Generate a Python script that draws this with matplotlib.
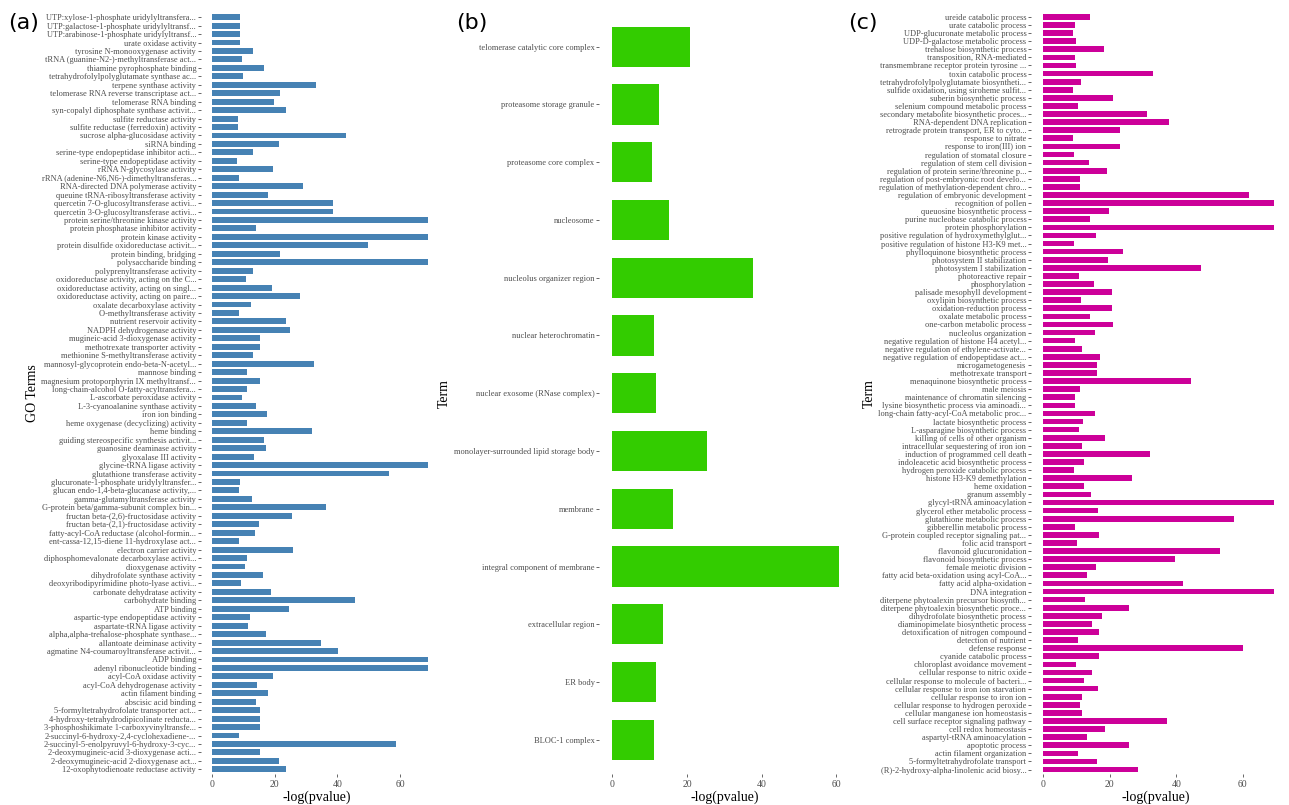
import matplotlib
matplotlib.use("Agg")
import matplotlib.pyplot as plt

# ---- data (listed top to bottom) ----
a_terms = ["UTP:xylose-1-phosphate uridylyltransfera...","UTP:galactose-1-phosphate uridylyltransf...","UTP:arabinose-1-phosphate uridylyltransf...","urate oxidase activity","tyrosine N-monooxygenase activity","tRNA (guanine-N2-)-methyltransferase act...","thiamine pyrophosphate binding","tetrahydrofolylpolyglutamate synthase ac...","terpene synthase activity","telomerase RNA reverse transcriptase act...","telomerase RNA binding","syn-copalyl diphosphate synthase activit...","sulfite reductase activity","sulfite reductase (ferredoxin) activity","sucrose alpha-glucosidase activity","siRNA binding","serine-type endopeptidase inhibitor acti...","serine-type endopeptidase activity","rRNA N-glycosylase activity","rRNA (adenine-N6,N6-)-dimethyltransferas...","RNA-directed DNA polymerase activity","queuine tRNA-ribosyltransferase activity","quercetin 7-O-glucosyltransferase activi...","quercetin 3-O-glucosyltransferase activi...","protein serine/threonine kinase activity","protein phosphatase inhibitor activity","protein kinase activity","protein disulfide oxidoreductase activit...","protein binding, bridging","polysaccharide binding",
"polyprenyltransferase activity","oxidoreductase activity, acting on the C...","oxidoreductase activity, acting on singl...","oxidoreductase activity, acting on paire...","oxalate decarboxylase activity","O-methyltransferase activity","nutrient reservoir activity","NADPH dehydrogenase activity","mugineic-acid 3-dioxygenase activity","methotrexate transporter activity","methionine S-methyltransferase activity","mannosyl-glycoprotein endo-beta-N-acetyl...","mannose binding","magnesium protoporphyrin IX methyltransf...","long-chain-alcohol O-fatty-acyltransfera...","L-ascorbate peroxidase activity","L-3-cyanoalanine synthase activity","iron ion binding","heme oxygenase (decyclizing) activity","heme binding","guiding stereospecific synthesis activit...","guanosine deaminase activity","glyoxalase III activity","glycine-tRNA ligase activity","glutathione transferase activity","glucuronate-1-phosphate uridylyltransfer...","glucan endo-1,4-beta-glucanase activity,...","gamma-glutamyltransferase activity","G-protein beta/gamma-subunit complex bin...","fructan beta-(2,6)-fructosidase activity",
"fructan beta-(2,1)-fructosidase activity","fatty-acyl-CoA reductase (alcohol-formin...","ent-cassa-12,15-diene 11-hydroxylase act...","electron carrier activity","diphosphomevalonate decarboxylase activi...","dioxygenase activity","dihydrofolate synthase activity","deoxyribodipyrimidine photo-lyase activi...","carbonate dehydratase activity","carbohydrate binding","ATP binding","aspartic-type endopeptidase activity","aspartate-tRNA ligase activity","alpha,alpha-trehalose-phosphate synthase...","allantoate deiminase activity","agmatine N4-coumaroyltransferase activit...","ADP binding","adenyl ribonucleotide binding","acyl-CoA oxidase activity","acyl-CoA dehydrogenase activity","actin filament binding","abscisic acid binding","5-formyltetrahydrofolate transporter act...","4-hydroxy-tetrahydrodipicolinate reducta...","3-phosphoshikimate 1-carboxyvinyltransfe...","2-succinyl-6-hydroxy-2,4-cyclohexadiene-...","2-succinyl-5-enolpyruvyl-6-hydroxy-3-cyc...","2-deoxymugineic-acid 3-dioxygenase acti...","2-deoxymugineic-acid 2-dioxygenase act...","12-oxophytodienoate reductase activity"]
a_vals = [8.8,8.8,8.8,8.8,13,9.4,16.6,9.9,33,21.8,19.6,23.7,8.2,8.2,42.7,21.2,13.2,7.9,19.3,8.7,28.9,17.7,38.5,38.5,69,13.9,69,49.8,21.8,69,
13.2,10.7,19.2,28.1,12.4,8.5,23.6,24.9,15.2,15.3,13,32.6,11.2,15.3,11,9.7,14.1,17.5,11,31.9,16.7,17.2,13.3,69,56.4,8.8,8.6,12.8,36.2,25.6,
14.9,13.7,8.6,25.7,11.3,10.4,16.4,9.1,18.8,45.5,24.4,12.2,11.6,17.2,34.7,40.1,69,69,19.3,14.3,17.7,13.9,15.3,15.4,15.2,8.6,58.7,15.2,21.3,23.6]

b_terms = ["telomerase catalytic core complex","proteasome storage granule","proteasome core complex","nucleosome","nucleolus organizer region","nuclear heterochromatin","nuclear exosome (RNase complex)","monolayer-surrounded lipid storage body","membrane","integral component of membrane","extracellular region","ER body","BLOC-1 complex"]
b_vals = [20.9,12.5,10.7,15.1,37.6,11.0,11.7,25.3,16.2,60.8,13.6,11.7,11.2]

c_terms = ["ureide catabolic process","urate catabolic process","UDP-glucuronate metabolic process","UDP-D-galactose metabolic process","trehalose biosynthetic process","transposition, RNA-mediated","transmembrane receptor protein tyrosine ...","toxin catabolic process","tetrahydrofolylpolyglutamate biosyntheti...","sulfide oxidation, using siroheme sulfit...","suberin biosynthetic process","selenium compound metabolic process","secondary metabolite biosynthetic proces...","RNA-dependent DNA replication","retrograde protein transport, ER to cyto...","response to nitrate","response to iron(III) ion","regulation of stomatal closure","regulation of stem cell division","regulation of protein serine/threonine p...","regulation of post-embryonic root develo...","regulation of methylation-dependent chro...","regulation of embryonic development","recognition of pollen","queuosine biosynthetic process","purine nucleobase catabolic process","protein phosphorylation","positive regulation of hydroxymethylglut...","positive regulation of histone H3-K9 met...","phylloquinone biosynthetic process","photosystem II stabilization",
"photosystem I stabilization","photoreactive repair","phosphorylation","palisade mesophyll development","oxylipin biosynthetic process","oxidation-reduction process","oxalate metabolic process","one-carbon metabolic process","nucleolus organization","negative regulation of histone H4 acetyl...","negative regulation of ethylene-activate...","negative regulation of endopeptidase act...","microgametogenesis","methotrexate transport","menaquinone biosynthetic process","male meiosis","maintenance of chromatin silencing","lysine biosynthetic process via aminoadi...","long-chain fatty-acyl-CoA metabolic proc...","lactate biosynthetic process","L-asparagine biosynthetic process","killing of cells of other organism","intracellular sequestering of iron ion","induction of programmed cell death","indoleacetic acid biosynthetic process","hydrogen peroxide catabolic process","histone H3-K9 demethylation","heme oxidation","granum assembly","glycyl-tRNA aminoacylation","glycerol ether metabolic process","glutathione metabolic process",
"gibberellin metabolic process","G-protein coupled receptor signaling pat...","folic acid transport","flavonoid glucuronidation","flavonoid biosynthetic process","female meiotic division","fatty acid beta-oxidation using acyl-CoA...","fatty acid alpha-oxidation","DNA integration","diterpene phytoalexin precursor biosynth...","diterpene phytoalexin biosynthetic proce...","dihydrofolate biosynthetic process","diaminopimelate biosynthetic process","detoxification of nitrogen compound","detection of nutrient","defense response","cyanide catabolic process","chloroplast avoidance movement","cellular response to nitric oxide","cellular response to molecule of bacteri...","cellular response to iron ion starvation","cellular response to iron ion","cellular response to hydrogen peroxide","cellular manganese ion homeostasis","cell surface receptor signaling pathway","cell redox homeostasis","aspartyl-tRNA aminoacylation","apoptotic process","actin filament organization","5-formyltetrahydrofolate transport","(R)-2-hydroxy-alpha-linolenic acid biosy..."]
c_vals = [14.2,9.6,8.9,10,18.2,9.6,9.8,33,11.4,9.1,21,10.5,31.2,37.8,23,8.9,23.1,9.2,13.8,19.2,11.2,11.2,61.7,69.3,19.9,14.2,69.3,16,9.4,24,19.6,
47.4,10.9,15.3,20.7,11.5,20.7,14.1,21.1,15.5,9.6,11.8,17.1,16.3,16.2,44.5,11,9.6,9.6,15.6,12,10.7,18.6,11.8,32.1,12.2,9.2,26.8,12.4,14.5,69.3,16.4,57.3,
9.7,16.9,10.2,53.2,39.7,16,13.3,41.9,69.3,12.7,25.9,17.6,14.8,16.9,10.6,60,16.9,9.9,14.7,12.3,16.4,11.8,11.1,11.8,37.2,18.6,13.3,25.9,10.6,16.2,28.4]

plt.rcParams['font.family'] = ['Liberation Serif', 'DejaVu Serif']
fig = plt.figure(figsize=(12.89, 8.05), dpi=100)

def panel(rect, terms, vals, color, ylabel, fs, xmin, xmax, letter, lx):
    ax = fig.add_axes(rect)
    n = len(terms)
    ys = [n - 1 - i for i in range(n)]
    ax.barh(ys, vals, height=0.7, color=color)
    ax.set_yticks(ys)
    ax.set_yticklabels(terms, fontsize=fs, color='#4d4d4d')
    ax.set_ylim(-0.6, n - 0.4)
    ax.set_xlim(xmin, xmax)
    ax.set_xticks([0, 20, 40, 60])
    ax.tick_params(axis='x', labelsize=7, colors='#4d4d4d', length=2.5, width=0.6, pad=1.5)
    ax.tick_params(axis='y', length=2.5, width=0.6, pad=1, colors='#4d4d4d')
    for s in ax.spines.values():
        s.set_visible(False)
    ax.set_xlabel('-log(pvalue)', fontsize=10, labelpad=1)
    ax.set_ylabel(ylabel, fontsize=10, labelpad=2)
    fig.text(lx, 0.972, letter, fontsize=16, family='DejaVu Sans', va='center')
    return ax

panel([0.156, 0.038, 0.180, 0.947], a_terms, a_vals, '#4682b4', 'GO Terms', 6.0, -3.5, 70.5, '(a)', 0.006)
panel([0.465, 0.038, 0.194, 0.947], b_terms, b_vals, '#33cc00', 'Term', 6.0, -3.5, 63.5, '(b)', 0.354)
panel([0.800, 0.038, 0.194, 0.947], c_terms, c_vals, '#cc0099', 'Term', 6.0, -3.5, 71.5, '(c)', 0.658)

fig.savefig('out.png', dpi=100)
